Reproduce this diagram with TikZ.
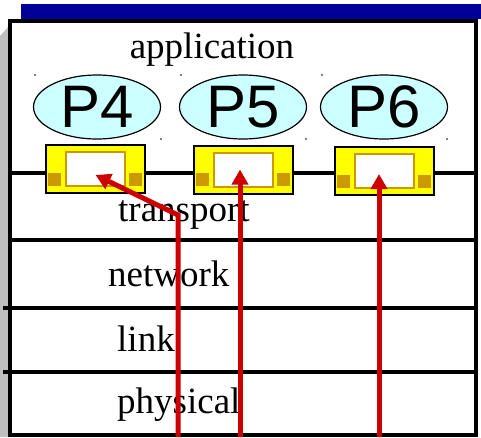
\documentclass[tikz,border=0pt]{standalone}
\usepackage{fontspec}
\setmainfont{Liberation Serif}
\newfontfamily\procfont{Liberation Sans}
\usetikzlibrary{shapes.geometric, arrows.meta, calc}

\definecolor{barblue}{HTML}{000099}
\definecolor{proccyan}{HTML}{CCFFFF}
\definecolor{sockgold}{HTML}{CC9900}
\definecolor{sockyellow}{HTML}{FFFF00}
\definecolor{msgred}{HTML}{CC0000}

\tikzset{
    layer/.style={anchor=base west, inner sep=0pt, font=\fontsize{37}{40}\selectfont},
    process/.style={ellipse, draw, line width=1.2pt, fill=proccyan, minimum width=127pt,
        minimum height=64pt, inner sep=0pt, font=\procfont\fontsize{60}{60}\selectfont},
    socket/.style={rectangle, draw, line width=2pt, fill=sockyellow, minimum width=99pt,
        minimum height=48pt, inner sep=0pt},
    sockslot/.style={rectangle, draw=sockgold, line width=2pt, fill=white, minimum width=59pt,
        minimum height=34pt, inner sep=0pt},
    sockpin/.style={rectangle, fill=sockgold, minimum size=13pt, inner sep=0pt},
    msg/.style={msgred, line width=5pt, -{Triangle[length=15pt,width=16pt]}},
    speck/.style={circle, fill, inner sep=0pt, minimum size=1.6pt}
}

\begin{document}
\begin{tikzpicture}[x=1pt, y=-1pt]

        \useasboundingbox (0,0) rectangle (481,437);

        % SHADOW AND TITLE BAR
        \fill[black!25] (0,36) -- (9,26) -- (9,437) -- (0,437) -- cycle;
        \fill[barblue] (21,4) rectangle (481,19);

        % HOST FRAME
        \draw[fill=white, line width=3.5pt] (10,21) rectangle (476,435);
        \draw[line width=3.5pt] (10,173) -- (476,173);
        \draw[line width=3.5pt] (10,240) -- (476,240);
        \draw[line width=3.5pt] (3,308) -- (476,308);
        \draw[line width=3.5pt] (3,372) -- (476,372);

        % LAYERS
        \node[anchor=base, inner sep=0pt, font=\fontsize{37}{40}\selectfont] (app) at (212,58) {application};
        \node[layer] (tra) at (118,221) {transport};
        \node[layer] (net) at (108,286) {network};
        \node[layer] (lnk) at (117,351) {link};
        \node[layer] (phy) at (117,413) {physical};

        % PROCESSES
        \node[process] (P4) at (97,107) {P4};
        \node[process] (P5) at (243,107) {P5};
        \node[process] (P6) at (384,107) {P6};

        \foreach \x/\y in {35/75, 181/75, 322/75, 161/139, 306/139, 447/139}
            \node[speck] at (\x,\y) {};

        % SOCKETS
        \foreach \n/\x/\y in {4/95.5/169, 5/243.5/169.5, 6/384.5/171} {
            \node[socket] (S\n) at (\x,\y) {};
            \node[sockslot] (s\n) at (S\n.center) {};
            \node[sockpin, anchor=south west] at ($(S\n.south west) + (3,-8)$) {};
            \node[sockpin, anchor=south east] at ($(S\n.south east) + (-4,-8)$) {};
        }

        % SEGMENTS UP TO THE SOCKETS
        \coordinate (in4) at (178,437);
        \coordinate (in5) at (240,437);
        \coordinate (in6) at (379,437);
        \coordinate (bend4) at (178,215);

        \draw[msg] (in4) -- (bend4) -- ([yshift=-6pt]s4.center);
        \draw[msg] (in5) -- (in5 |- s5.center);
        \draw[msg] (in6) -- ([yshift=-3pt]in6 |- s6.center);

    \end{tikzpicture}
\end{document}
